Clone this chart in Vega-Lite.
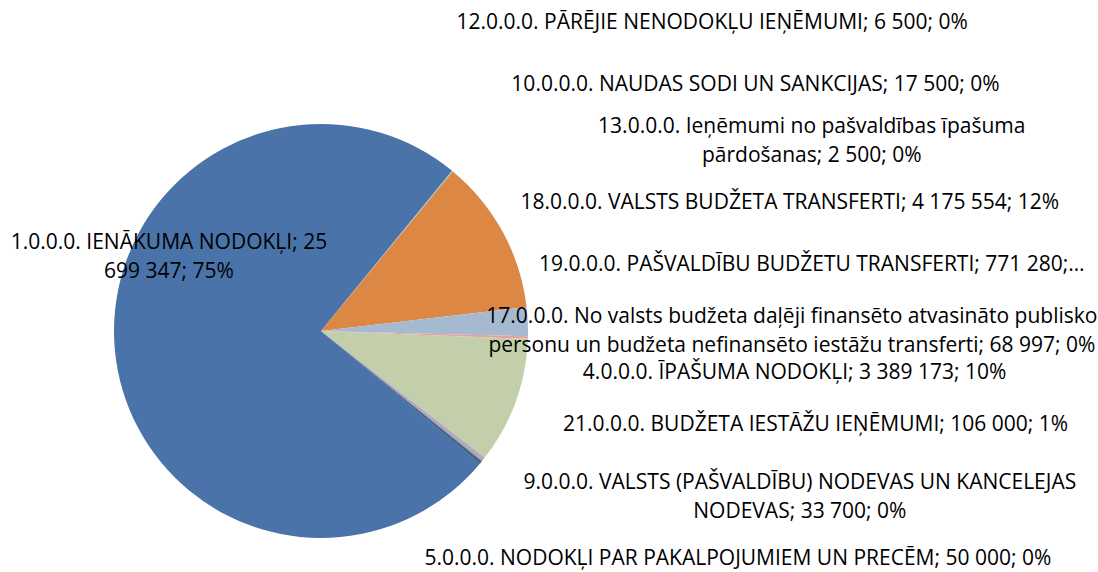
{
  "$schema": "https://vega.github.io/schema/vega-lite/v6.json",
  "width": 414,
  "height": 414,
  "autosize": {"type": "none"},
  "padding": {"left": 114, "top": 124, "right": 570, "bottom": 34},
  "background": "white",
  "config": {"view": {"stroke": null}, "text": {"font": "Open Sans", "fontSize": 21, "color": "#000000", "lineHeight": 29}},
  "data": {"values": [
    {"code": "1", "rank": 1, "value": 25699347, "label": "1.0.0.0. IENĀKUMA NODOKĻI; 25\n699 347; 75%"},
    {"code": "12", "rank": 2, "value": 6500, "label": "12.0.0.0. PĀRĒJIE NENODOKĻU IEŅĒMUMI; 6 500; 0%"},
    {"code": "10", "rank": 3, "value": 17500, "label": "10.0.0.0. NAUDAS SODI UN SANKCIJAS; 17 500; 0%"},
    {"code": "13", "rank": 4, "value": 2500, "label": "13.0.0.0. Ieņēmumi no pašvaldības īpašuma\npārdošanas; 2 500; 0%"},
    {"code": "18", "rank": 5, "value": 4175554, "label": "18.0.0.0. VALSTS BUDŽETA TRANSFERTI; 4 175 554; 12%"},
    {"code": "19", "rank": 6, "value": 771280, "label": "19.0.0.0. PAŠVALDĪBU BUDŽETU TRANSFERTI; 771 280;…"},
    {"code": "17", "rank": 7, "value": 68997, "label": "17.0.0.0. No valsts budžeta daļēji finansēto atvasināto publisko\npersonu un budžeta nefinansēto iestāžu transferti; 68 997; 0%"},
    {"code": "4", "rank": 8, "value": 3389173, "label": "4.0.0.0. ĪPAŠUMA NODOKĻI; 3 389 173; 10%"},
    {"code": "21", "rank": 9, "value": 106000, "label": "21.0.0.0. BUDŽETA IESTĀŽU IEŅĒMUMI; 106 000; 1%"},
    {"code": "9", "rank": 10, "value": 33700, "label": "9.0.0.0. VALSTS (PAŠVALDĪBU) NODEVAS UN KANCELEJAS\nNODEVAS; 33 700; 0%"},
    {"code": "5", "rank": 11, "value": 50000, "label": "5.0.0.0. NODOKĻI PAR PAKALPOJUMIEM UN PRECĒM; 50 000; 0%"}
  ]},
  "encoding": {
    "theta": {"field": "value", "type": "quantitative", "stack": true, "scale": {"range": [2.2637, 8.5469]}},
    "order": {"field": "rank", "type": "quantitative"},
    "detail": {"field": "code", "type": "nominal"}
  },
  "layer": [
    {
      "mark": {"type": "arc", "stroke": null},
      "encoding": {
        "color": {"field": "code", "type": "nominal", "legend": null,
          "scale": {"domain": ["1","12","10","13","18","19","17","4","21","9","5"],
                    "range": ["#4a74a9","#4bacc6","#8ec2d4","#9bbb59","#dd8744","#a5b9d1","#e3a2a0","#c2cfaa","#b1a9c2","#7a7f86","#2f4f6f"]}}
      }
    },
    {"mark": {"type": "text", "radius": 207, "dx": 54, "dy": -107.5, "lineBreak": "\n"},
     "encoding": {"text": {"condition": {"test": "datum.code === '1'", "field": "label"}, "value": ""}}},
    {"mark": {"type": "text", "radius": 207, "dx": 260, "dy": -148, "lineBreak": "\n"},
     "encoding": {"text": {"condition": {"test": "datum.code === '12'", "field": "label"}, "value": ""}}},
    {"mark": {"type": "text", "radius": 207, "dx": 303, "dy": -86, "lineBreak": "\n"},
     "encoding": {"text": {"condition": {"test": "datum.code === '10'", "field": "label"}, "value": ""}}},
    {"mark": {"type": "text", "radius": 207, "dx": 359, "dy": -44, "lineBreak": "\n"},
     "encoding": {"text": {"condition": {"test": "datum.code === '13'", "field": "label"}, "value": ""}}},
    {"mark": {"type": "text", "radius": 207, "dx": 287, "dy": -29, "lineBreak": "\n"},
     "encoding": {"text": {"condition": {"test": "datum.code === '18'", "field": "label"}, "value": ""}}},
    {"mark": {"type": "text", "radius": 207, "dx": 284, "dy": -57, "lineBreak": "\n"},
     "encoding": {"text": {"condition": {"test": "datum.code === '19'", "field": "label"}, "value": ""}}},
    {"mark": {"type": "text", "radius": 207, "dx": 264, "dy": -20.5, "lineBreak": "\n"},
     "encoding": {"text": {"condition": {"test": "datum.code === '17'", "field": "label"}, "value": ""}}},
    {"mark": {"type": "text", "radius": 207, "dx": 279, "dy": -29, "lineBreak": "\n"},
     "encoding": {"text": {"condition": {"test": "datum.code === '4'", "field": "label"}, "value": ""}}},
    {"mark": {"type": "text", "radius": 207, "dx": 332, "dy": -34, "lineBreak": "\n"},
     "encoding": {"text": {"condition": {"test": "datum.code === '21'", "field": "label"}, "value": ""}}},
    {"mark": {"type": "text", "radius": 207, "dx": 318, "dy": 21.5, "lineBreak": "\n"},
     "encoding": {"text": {"condition": {"test": "datum.code === '9'", "field": "label"}, "value": ""}}},
    {"mark": {"type": "text", "radius": 207, "dx": 257, "dy": 97, "lineBreak": "\n"},
     "encoding": {"text": {"condition": {"test": "datum.code === '5'", "field": "label"}, "value": ""}}}
  ]
}
